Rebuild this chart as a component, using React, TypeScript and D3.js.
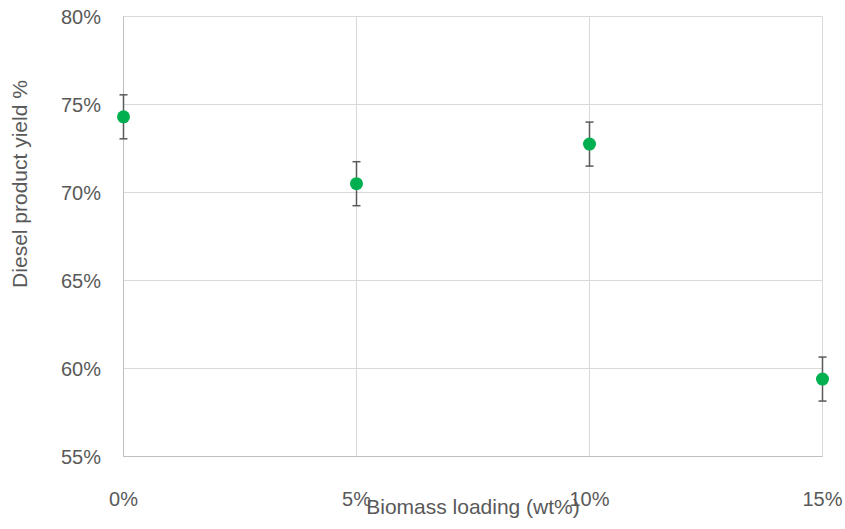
import React from "react";
import * as d3 from "d3";

const loadings = [0, 5, 10, 15];
const yields = [74.3, 70.5, 72.75, 59.4];
const errors = [1.25, 1.25, 1.25, 1.25];
const yTicks = [55, 60, 65, 70, 75, 80];
const xTicks = [0, 5, 10, 15];

export default function App() {
  const W = 845, H = 529;
  const left = 123.5, right = 822.5, top = 16.5, bottom = 456.5;
  const x = d3.scaleLinear().domain([0, 15]).range([left, right]);
  const y = d3.scaleLinear().domain([55, 80]).range([bottom, top]);
  const font = "Liberation Sans, Arial, sans-serif";
  const grid = "#d9d9d9";
  const txt = "#595959";
  return (
    <svg width={W} height={H} style={{ position: "absolute", left: 0, top: 0 }}>
      <rect width={W} height={H} fill="#fff" />
      {yTicks.map((t) => (
        <line key={"gy" + t} x1={left} x2={right} y1={y(t)} y2={y(t)} stroke={grid} strokeWidth={1} />
      ))}
      {xTicks.map((t) => (
        <line key={"gx" + t} x1={x(t)} x2={x(t)} y1={top} y2={bottom} stroke={grid} strokeWidth={1} />
      ))}
      <line x1={left} x2={left} y1={top} y2={bottom} stroke="#bfbfbf" />
      <line x1={left} x2={right} y1={bottom} y2={bottom} stroke="#bfbfbf" />
      {yTicks.map((t) => (
        <text key={"ty" + t} x={101} y={y(t)} dy="0.35em" textAnchor="end" fontFamily={font} fontSize={20} fill={txt}>
          {t}%
        </text>
      ))}
      {xTicks.map((t) => (
        <text key={"tx" + t} x={x(t)} y={506} textAnchor="middle" fontFamily={font} fontSize={20} fill={txt}>
          {t}%
        </text>
      ))}
      {loadings.map((l, i) => {
        const cx = x(l);
        const y1 = y(yields[i] + errors[i]);
        const y2 = y(yields[i] - errors[i]);
        return (
          <g key={"e" + i}>
            <line x1={cx} x2={cx} y1={y1} y2={y2} stroke="#595959" strokeWidth={1.5} />
            <line x1={cx - 4} x2={cx + 4} y1={y1} y2={y1} stroke="#595959" strokeWidth={1.5} />
            <line x1={cx - 4} x2={cx + 4} y1={y2} y2={y2} stroke="#595959" strokeWidth={1.5} />
          </g>
        );
      })}
      {loadings.map((l, i) => (
        <circle key={"p" + i} cx={x(l)} cy={y(yields[i])} r={6.5} fill="#00b050" />
      ))}
      <text x={473} y={514} textAnchor="middle" fontFamily={font} fontSize={21} fill={txt}>
        Biomass loading (wt%)
      </text>
      <text
        transform={`translate(27,${184}) rotate(-90)`}
        textAnchor="middle"
        fontFamily={font}
        fontSize={21}
        fill={txt}
      >
        Diesel product yield %
      </text>
    </svg>
  );
}
